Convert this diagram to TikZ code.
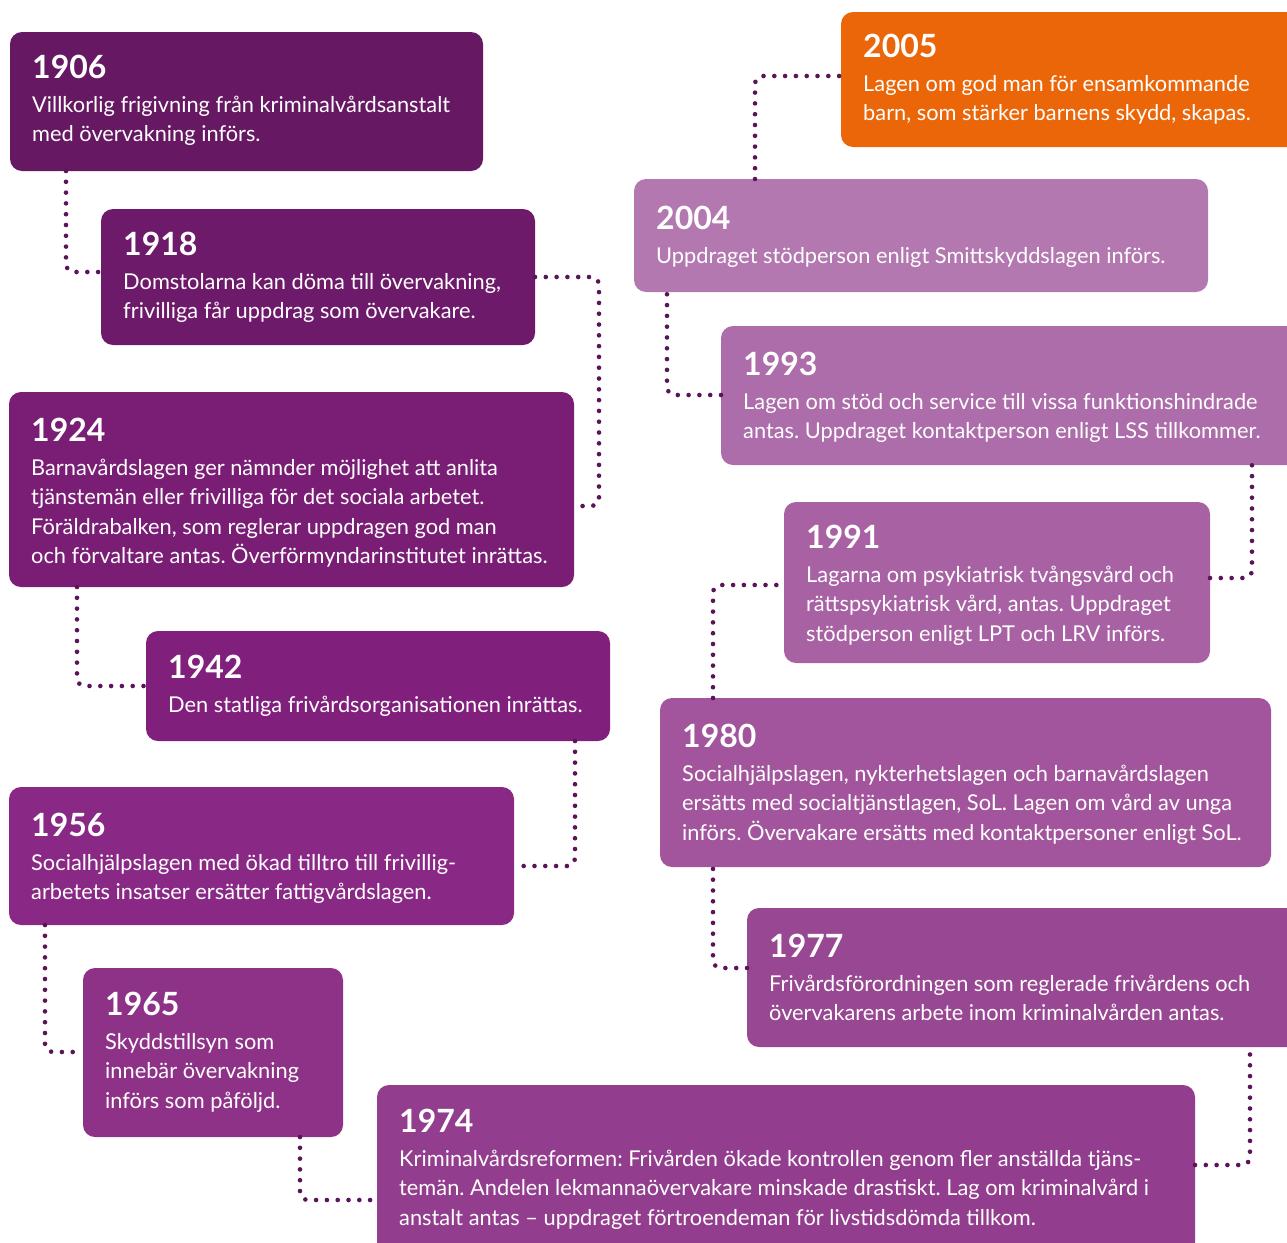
\documentclass[tikz,border=0pt]{standalone}
\usepackage{fontspec}
\setmainfont{Lato}
\frenchspacing
\definecolor{c1906}{RGB}{103,24,98}
\definecolor{c1918}{RGB}{110,26,106}
\definecolor{c1924}{RGB}{121,29,117}
\definecolor{c1942}{RGB}{129,31,125}
\definecolor{c1956}{RGB}{137,40,133}
\definecolor{c1965}{RGB}{142,50,136}
\definecolor{c1974}{RGB}{147,61,142}
\definecolor{c1977}{RGB}{152,71,146}
\definecolor{c1980}{RGB}{162,85,156}
\definecolor{c1991}{RGB}{168,98,164}
\definecolor{c1993}{RGB}{173,108,170}
\definecolor{c2004}{RGB}{180,120,177}
\definecolor{c2005}{RGB}{235,102,8}
\definecolor{dotc}{RGB}{90,20,88}
\tikzset{
  evbox/.style={rectangle, rounded corners=12pt, inner sep=0pt, outer sep=0pt, anchor=north west, draw=none},
  yeartxt/.style={anchor=base west, inner sep=0pt, text=white, font=\fontsize{32}{36}\selectfont\bfseries},
  bodytxt/.style={anchor=base west, inner sep=0pt, text=white, font=\fontsize{21.8}{26}\selectfont\frenchspacing},
  conn/.style={draw=dotc, line width=4.6pt, line cap=round, dash pattern=on 0pt off 10.8pt, rounded corners=8pt},
}
\newcommand\evt[9]{%
  \node[evbox, fill=#6, minimum width=#4pt, minimum height=#5pt] (n#1) at (#2,#3) {};
  \node[yeartxt] (y#1) at (#2+22,#8) {#7};
  \foreach \ll [count=\i from 0] in {#9} {
    \node[bodytxt] (t#1l\i) at (#2+22,#8+34+29.5*\i) {\ll};
  }%
}
\begin{document}
\begin{tikzpicture}[x=1pt,y=-1pt]
\useasboundingbox (0,0) rectangle (1287,1242);
\fill[white] (0,0) rectangle (1287,1242);
\begin{scope}
\clip (0,0) rectangle (1287,1242);
% left column
\evt{1906}{10}{32}{473}{139}{c1906}{1906}{78}{{Villkorlig frigivning från kriminalvårdsanstalt},{med övervakning införs.}}
\evt{1918}{101}{209}{434}{136}{c1918}{1918}{255}{{Domstolarna kan döma till övervakning,},{frivilliga får uppdrag som övervakare.}}
\evt{1924}{9}{392}{565}{195}{c1924}{1924}{441}{{Barnavårdslagen ger nämnder möjlighet att anlita},{tjänstemän eller frivilliga för det sociala arbetet.},{Föräldrabalken, som reglerar uppdragen god man},{och förvaltare antas. Överförmyndarinstitutet inrättas.}}
\evt{1942}{146}{631}{464}{110}{c1942}{1942}{678}{{Den statliga frivårdsorganisationen inrättas.}}
\evt{1956}{9}{787}{505}{138}{c1956}{1956}{836}{{Socialhjälpslagen med ökad tilltro till frivillig-},{arbetets insatser ersätter fattigvårdslagen.}}
\evt{1965}{83}{968}{260}{169}{c1965}{1965}{1015}{{Skyddstillsyn som},{innebär övervakning},{införs som påföljd.}}
\evt{1974}{377}{1085}{818}{180}{c1974}{1974}{1132}{{Kriminalvårdsreformen: Frivården ökade kontrollen genom fler anställda tjäns-},{temän. Andelen lekmannaövervakare minskade drastiskt. Lag om kriminalvård i},{anstalt antas – uppdraget förtroendeman för livstidsdömda tillkom.}}
% right column
\evt{2005}{841}{12}{470}{135}{c2005}{2005}{57}{{Lagen om god man för ensamkommande},{barn, som stärker barnens skydd, skapas.}}
\evt{2004}{634}{179}{574}{113}{c2004}{2004}{229}{{Uppdraget stödperson enligt Smittskyddslagen införs.}}
\evt{1993}{721}{326}{590}{139}{c1993}{1993}{375}{{Lagen om stöd och service till vissa funktionshindrade},{antas. Uppdraget kontaktperson enligt LSS tillkommer.}}
\evt{1991}{784}{502}{426}{161}{c1991}{1991}{548}{{Lagarna om psykiatrisk tvångsvård och},{rättspsykiatrisk vård, antas. Uppdraget},{stödperson enligt LPT och LRV införs.}}
\evt{1980}{660}{698}{611}{169}{c1980}{1980}{747}{{Socialhjälpslagen, nykterhetslagen och barnavårdslagen},{ersätts med socialtjänstlagen, SoL. Lagen om vård av unga},{införs. Övervakare ersätts med kontaktpersoner enligt SoL.}}
\evt{1977}{747}{908}{564}{139}{c1977}{1977}{957}{{Frivårdsförordningen som reglerade frivårdens och},{övervakarens arbete inom kriminalvården antas.}}
% connectors
\draw[conn] ([xshift=56pt]n1906.south west) |- ([yshift=-63pt]n1918.north west);
\draw[conn] ([yshift=-68pt]n1918.north east) -| ([xshift=25pt,yshift=-114pt]n1924.north east) -- ([yshift=-114pt]n1924.north east);
\draw[conn] ([xshift=68pt]n1924.south west) |- ([yshift=-55pt]n1942.north west);
\draw[conn] ([xshift=-35pt]n1942.south east) |- ([yshift=-79pt]n1956.north east);
\draw[conn] ([xshift=36pt]n1956.south west) |- ([yshift=-84pt]n1965.north west);
\draw[conn] ([xshift=-43pt]n1965.south east) |- ([yshift=-115pt]n1974.north west);
\draw[conn] ([yshift=-80pt]n1974.north east) -| ([xshift=503pt]n1977.south west);
\draw[conn] ([yshift=-60pt]n1977.north west) -| ([xshift=53pt]n1980.south west);
\draw[conn] ([xshift=53pt]n1980.north west) |- ([yshift=-83pt]n1991.north west);
\draw[conn] ([yshift=-76pt]n1991.north east) -| ([xshift=531pt]n1993.south west);
\draw[conn] ([yshift=-69pt]n1993.north west) -| ([xshift=33pt]n2004.south west);
\draw[conn] ([xshift=121pt]n2004.north west) |- ([yshift=-64pt]n2005.north west);
\end{scope}
\end{tikzpicture}
\end{document}
